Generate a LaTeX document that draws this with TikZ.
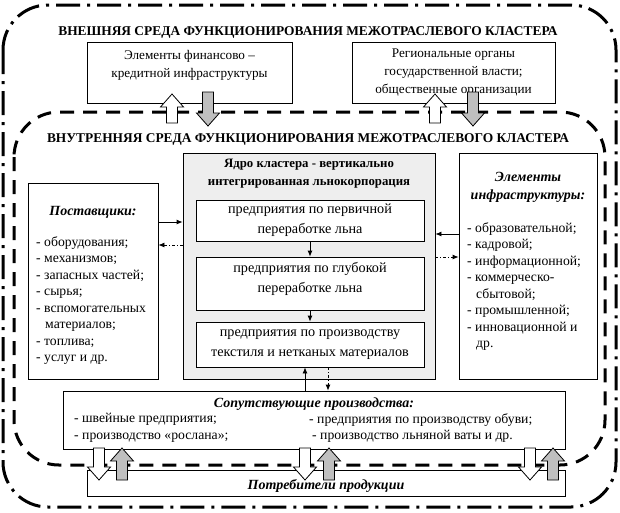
\documentclass[tikz,border=0pt]{standalone}
\usepackage{fontspec}
\setmainfont{Liberation Serif}
\usetikzlibrary{backgrounds,arrows.meta}

\begin{document}
\begin{tikzpicture}[x=1pt, y=-1pt, background rectangle/.style={fill=white}, show background rectangle]
  \useasboundingbox (0,0) rectangle (620,512);

  \tikzstyle{box}=[draw, fill=white, line width=0.8pt, inner sep=0pt, align=center]
  \tikzstyle{txt}=[font=\fontsize{13.2}{18}\selectfont]
  \tikzstyle{inner}=[box, font=\fontsize{14.2}{20}\selectfont, minimum width=228pt]
  \tikzstyle{list}=[font=\fontsize{13.7}{16.5}\selectfont, inner sep=0pt, align=left, anchor=north west]
  \tikzstyle{head}=[font=\fontsize{13.4}{16}\selectfont\bfseries, inner sep=0pt]
  \tikzstyle{ihead}=[font=\fontsize{14}{18}\selectfont\bfseries\itshape, inner sep=0pt, align=center]
  \tikzstyle{wide}=[line width=3pt]
  \tikzstyle{flow}=[-{Latex[length=6pt,width=5pt]}, line width=0.8pt]
  \tikzstyle{back}=[flow, dash pattern=on 3pt off 2pt on 1pt off 2pt]
  \tikzset{
    pics/blockup/.style n args={2}{code={
      \draw[line width=0.8pt, fill=#1] (-5.5,#2) -- (-5.5,-#2+13) -- (-11.5,-#2+13) -- (0,-#2)
        -- (11.5,-#2+13) -- (5.5,-#2+13) -- (5.5,#2) -- cycle;}},
    pics/blockdown/.style n args={2}{code={
      \draw[line width=0.8pt, fill=#1] (-5.5,-#2) -- (-5.5,#2-13) -- (-11.5,#2-13) -- (0,#2)
        -- (11.5,#2-13) -- (5.5,#2-13) -- (5.5,-#2) -- cycle;}}
  }

  % the two environments
  \draw[wide, rounded corners=45pt, dash pattern=on 24pt off 7pt on 3pt off 7pt] (3,5) rectangle (616,507);
  \draw[wide, rounded corners=45pt, dash pattern=on 14pt off 9pt] (14,112) rectangle (605,465);

  \node[head] (outertitle) at (308,32) {ВНЕШНЯЯ СРЕДА ФУНКЦИОНИРОВАНИЯ МЕЖОТРАСЛЕВОГО КЛАСТЕРА};
  \node[head] (innertitle) at (308,139) {ВНУТРЕННЯЯ СРЕДА ФУНКЦИОНИРОВАНИЯ МЕЖОТРАСЛЕВОГО КЛАСТЕРА};

  % outer boxes
  \node[box, txt, minimum width=205pt, minimum height=61pt, text depth=18pt] (finance) at (189.5,72.5)
    {Элементы финансово --\\кредитной инфраструктуры};
  \node[box, txt, minimum width=203pt, minimum height=61pt] (authority) at (453.5,72.5)
    {Региональные органы\\государственной власти;\\общественные организации};

  % core of the cluster
  \node[box, fill=gray!13, minimum width=252pt, minimum height=226pt] (core) at (309,266) {};
  \node[font=\fontsize{12.8}{18}\selectfont\bfseries, align=center, inner sep=0pt] (coretitle) at (309,174)
    {Ядро кластера - вертикально\\интегрированная льнокорпорация};
  \node[inner, minimum height=41pt] (primary) at (310,220.5)
    {предприятия по первичной\\переработке льна};
  \node[inner, minimum height=53pt, text depth=12pt] (deep) at (310,283.5)
    {предприятия по глубокой\\переработке льна};
  \node[inner, minimum height=45pt] (textile) at (310,344.5)
    {предприятия по производству\\текстиля и нетканых материалов};
  \draw[flow] (primary) -- (deep);
  \draw[flow] (deep) -- (textile);

  % suppliers
  \node[box, minimum width=130pt, minimum height=196pt] (suppliers) at (93,281) {};
  \node[ihead] (supptitle) at (93,212) {Поставщики:};
  \node[list] (supplist) at (36,236)
    {- оборудования;\\- механизмов;\\- запасных частей;\\- сырья;\\- вспомогательных\\\hspace*{9pt}материалов;\\- топлива;\\- услуг и др.};

  % infrastructure
  \node[box, minimum width=138pt, minimum height=226pt] (infra) at (528,266) {};
  \node[ihead] (infratitle) at (528,187) {Элементы\\инфраструктуры:};
  \node[list] (infralist) at (467,222)
    {- образовательной;\\- кадровой;\\- информационной;\\- коммерческо-\\\hspace*{9pt}сбытовой;\\- промышленной;\\- инновационной и\\\hspace*{9pt}др.};

  % side links
  \draw[flow] (suppliers.east |- 0,222) -- (core.west |- 0,222);
  \draw[back] (core.west |- 0,245) -- (suppliers.east |- 0,245);
  \draw[flow] (infra.west |- 0,234) -- (core.east |- 0,234);
  \draw[back] (core.east |- 0,257) -- (infra.west |- 0,257);

  % related production
  \node[box, minimum width=502pt, minimum height=58pt] (related) at (314,420) {};
  \node[ihead] (reltitle) at (314,404) {Сопутствующие производства:};
  \node[list] (rellist) at (74,413) {- швейные предприятия;\\- производство «рослана»;};
  \node[list] (rellist2) at (309,413) {- предприятия по производству обуви;\\\hspace*{3pt}- производство льняной ваты и др.};
  \draw[flow] (related.north -| 305,0) -- (textile.south -| 305,0);
  \draw[back] (textile.south -| 328,0) -- (related.north -| 328,0);

  % consumers
  \node[box, ihead, minimum width=478pt, minimum height=26pt, text height=16pt] (consumers) at (326,483) {Потребители продукции};

  % block arrows
  \pic at (172,108.5) {blockup={white}{14.5}};
  \pic at (208,109) {blockdown={gray!50}{17}};
  \pic at (435,108.5) {blockup={white}{14.5}};
  \pic at (473,109) {blockdown={gray!50}{17}};
  \foreach \x in {99,305,530}
    \pic at (\x,464) {blockdown={white}{16}};
  \foreach \x in {122,329,553}
    \pic at (\x,464) {blockup={gray!50}{16}};
\end{tikzpicture}
\end{document}
